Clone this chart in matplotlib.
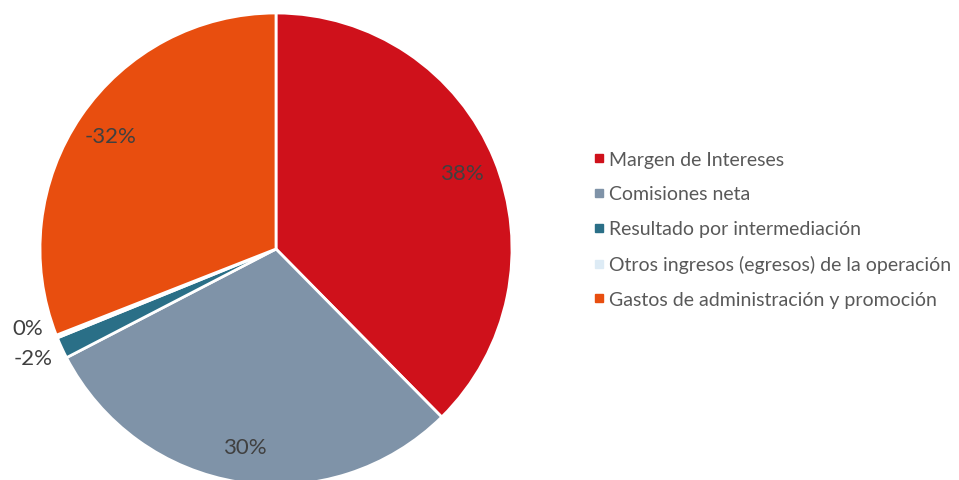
import numpy as np
import matplotlib
matplotlib.use("Agg")
from matplotlib import pyplot as plt
from matplotlib.lines import Line2D

plt.rcParams['font.family'] = ['Lato', 'DejaVu Sans']

categories = ['Margen de Intereses', 'Comisiones neta', 'Resultado por intermediación',
              'Otros ingresos (egresos) de la operación', 'Gastos de administración y promoción']
values = [38.4, 30.4, -1.5, -0.2, -31.6]
colors = ['#CF111B', '#7F93A8', '#2A6F87', '#DDEBF5', '#E84E0F']

fig = plt.figure(figsize=(9.59, 4.81), dpi=100)
cx, cy, r = 276, 231, 236
ax = fig.add_axes([(cx - r) / 959, (cy - r) / 481, 2 * r / 959, 2 * r / 481])

sizes = [abs(v) for v in values]
wedges, _ = ax.pie(sizes, colors=colors, startangle=90, counterclock=False,
                   wedgeprops=dict(edgecolor='white', linewidth=2), radius=1)
ax.set_xlim(-1, 1)
ax.set_ylim(-1, 1)
ax.set_aspect('equal')
ax.axis('off')

for i, (w, v) in enumerate(zip(wedges, values)):
    ang = np.deg2rad((w.theta1 + w.theta2) / 2)
    txt = f"{int(round(v))}%"
    if txt == '-0%':
        txt = '0%'
    if sizes[i] > 5:
        d = 0.85
        x, y = d * np.cos(ang), d * np.sin(ang)
    else:
        d = 1.1
        x, y = d * np.cos(ang), d * np.sin(ang)
        x -= 0.03
        y += 0.073 if i == 3 else 0.0
    ax.text(x, y, txt, ha='center', va='center', fontsize=16, color='#404040',
            clip_on=False)

handles = [Line2D([], [], marker='s', linestyle='', markersize=5.5,
                  markerfacecolor=c, markeredgecolor=c) for c in colors]
fig.legend(handles, categories, loc='center left', bbox_to_anchor=(0.596, 0.521),
           frameon=False, fontsize=14, labelcolor='#595959', handletextpad=0.0,
           handlelength=1.0, labelspacing=0.92)

fig.savefig('out.png', dpi=100)
